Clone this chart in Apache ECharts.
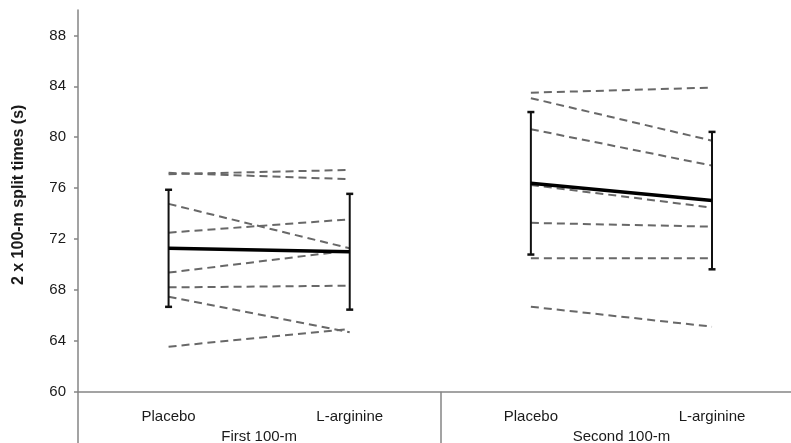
<!DOCTYPE html>
<html>
<head>
<meta charset="utf-8">
<script src="https://cdn.jsdelivr.net/npm/echarts@6/dist/echarts.min.js"></script>
<style>
html,body{margin:0;padding:0;background:#fff;}
#c{width:791px;height:443px;}
</style>
</head>
<body>
<div id="c"></div>
<script>
// ---- data ----
const conditions = ['Placebo', 'L-arginine'];
const groups = ['First 100-m', 'Second 100-m'];
const firstPlacebo = [77.1, 77.2, 74.76, 72.5, 69.36, 68.2, 67.47, 63.54];
const firstLarginine = [77.43, 76.7, 71.27, 73.55, 71.1, 68.33, 64.67, 64.93];
const secondPlacebo = [83.5, 83.07, 80.63, 76.25, 73.27, 70.49, 66.68];
const secondLarginine = [83.9, 79.73, 77.77, 74.47, 72.97, 70.49, 65.11];
const firstMean = [71.27, 71.0];
const firstSD = [4.6, 4.55];
const secondMean = [76.38, 75.02];
const secondSD = [5.6, 5.4];
const yTicks = [60, 64, 68, 72, 76, 80, 84, 88];

// ---- build ----
const xLabels = [conditions[0], conditions[1], conditions[0], conditions[1]];
const series = [];
const dashStyle = { color: '#686868', width: 2, type: [8, 5] };

function addSubjects(pl, la, offset) {
  pl.forEach((v, i) => {
    series.push({
      type: 'line', xAxisIndex: 0, symbol: 'none', silent: true,
      lineStyle: dashStyle, z: 2,
      data: [[offset, v], [offset + 1, la[i]]]
    });
  });
}
addSubjects(firstPlacebo, firstLarginine, 0);
addSubjects(secondPlacebo, secondLarginine, 2);

const errData = [
  [0, firstMean[0] - firstSD[0], firstMean[0] + firstSD[0]],
  [1, firstMean[1] - firstSD[1], firstMean[1] + firstSD[1]],
  [2, secondMean[0] - secondSD[0], secondMean[0] + secondSD[0]],
  [3, secondMean[1] - secondSD[1], secondMean[1] + secondSD[1]]
];
series.push({
  type: 'custom', xAxisIndex: 0, silent: true, z: 3,
  data: errData,
  renderItem: function (params, api) {
    const x = api.value(0);
    const lo = api.coord([x, api.value(1)]);
    const hi = api.coord([x, api.value(2)]);
    const cap = 3.5;
    const st = { stroke: '#111', lineWidth: 2 };
    return {
      type: 'group',
      children: [
        { type: 'line', shape: { x1: lo[0], y1: lo[1], x2: hi[0], y2: hi[1] }, style: st },
        { type: 'line', shape: { x1: lo[0] - cap, y1: lo[1], x2: lo[0] + cap, y2: lo[1] }, style: { stroke: '#111', lineWidth: 2.5 } },
        { type: 'line', shape: { x1: hi[0] - cap, y1: hi[1], x2: hi[0] + cap, y2: hi[1] }, style: { stroke: '#111', lineWidth: 2.5 } }
      ]
    };
  }
});

const meanStyle = { color: '#000', width: 3.5, type: 'solid' };
series.push({ type: 'line', xAxisIndex: 0, symbol: 'none', silent: true, z: 4,
  lineStyle: meanStyle, data: [[0, firstMean[0]], [1, firstMean[1]]] });
series.push({ type: 'line', xAxisIndex: 0, symbol: 'none', silent: true, z: 4,
  lineStyle: meanStyle, data: [[2, secondMean[0]], [3, secondMean[1]]] });

const font = 'Liberation Sans, Arial, sans-serif';
const xMin = -0.5, xMax = 3.436;

const option = {
  animation: false,
  backgroundColor: '#fff',
  grid: { left: 78, right: 0, top: 10, bottom: 51.3, containLabel: false, outerBoundsMode: 'none' },
  xAxis: [
    {
      type: 'value', min: xMin, max: xMax, position: 'bottom',
      axisLine: { show: true, onZero: false, lineStyle: { color: '#858585', width: 1.5 } },
      axisTick: { show: true, customValues: [-0.5, 1.5], length: 52, inside: false,
        lineStyle: { color: '#858585', width: 1.5 } },
      axisLabel: {
        customValues: [0, 1, 2, 3], margin: 18,
        formatter: v => xLabels[Math.round(v)] || '',
        color: '#1a1a1a', fontSize: 15, fontFamily: font
      },
      splitLine: { show: false }
    },
    {
      type: 'value', min: xMin, max: xMax, position: 'bottom',
      axisLine: { show: false, onZero: false }, axisTick: { show: false },
      axisLabel: {
        customValues: [0.5, 2.5], margin: 38,
        formatter: v => groups[v < 1.5 ? 0 : 1],
        color: '#1a1a1a', fontSize: 15, fontFamily: font
      },
      splitLine: { show: false }
    }
  ],
  yAxis: {
    type: 'value', min: 60, max: 90, interval: 4,
    name: '2 x 100-m split times (s)', nameLocation: 'middle', nameGap: 51,
    nameTextStyle: { fontSize: 16, fontWeight: 'bold', color: '#1a1a1a', fontFamily: font, padding: [0, 0, 0, 12] },
    axisLine: { show: true, onZero: false, lineStyle: { color: '#858585', width: 1.5 } },
    axisTick: { show: true, customValues: yTicks, length: 4, lineStyle: { color: '#858585', width: 1.5 } },
    axisLabel: { customValues: yTicks, margin: 12, color: '#1a1a1a', fontSize: 15, fontFamily: font },
    splitLine: { show: false }
  },
  series: series
};

const chart = echarts.init(document.getElementById('c'), null, { renderer: 'canvas' });
chart.setOption(option);
</script>
</body>
</html>
